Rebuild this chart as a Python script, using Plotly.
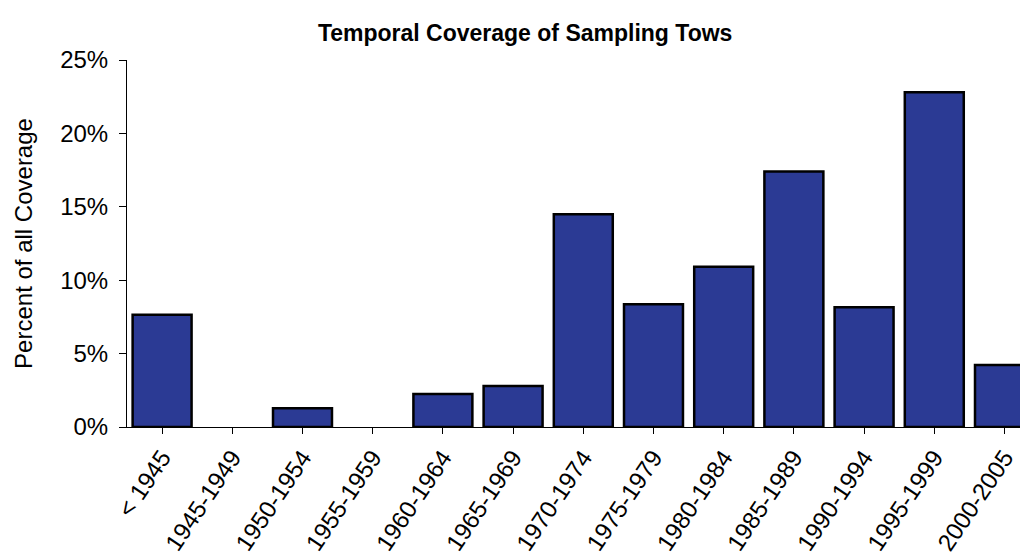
import plotly.graph_objects as go

categories = ["< 1945", "1945-1949", "1950-1954", "1955-1959", "1960-1964", "1965-1969",
              "1970-1974", "1975-1979", "1980-1984", "1985-1989", "1990-1994", "1995-1999",
              "2000-2005"]
percent_values = [7.65, 0, 1.27, 0, 2.25, 2.8, 14.5, 8.36, 10.92, 17.4, 8.15, 22.8, 4.22]
y_tick_vals = [0, 5, 10, 15, 20, 25]
y_tick_text = ["0%", "5%", "10%", "15%", "20%", "25%"]

font_family = "Liberation Sans, Arial, sans-serif"

line_widths = [2.5 if v > 0 else 0 for v in percent_values]

fig = go.Figure()
fig.add_trace(go.Bar(
    x=list(range(len(categories))),
    y=percent_values,
    width=0.84,
    marker=dict(color="#2b3a94", line=dict(color="black", width=line_widths)),
    showlegend=False,
))

fig.update_layout(
    width=1020, height=548,
    margin=dict(l=119, r=0, t=52, b=129, autoexpand=False),
    paper_bgcolor="white", plot_bgcolor="white",
    font=dict(family=font_family, size=24, color="black"),
    title=dict(text="<b>Temporal Coverage of Sampling Tows</b>", x=0.507, xanchor="center",
               y=0.954, yanchor="middle", font=dict(size=23, family=font_family, color="black")),
)
fig.update_xaxes(
    range=[-0.5, 12.335], automargin=False,
    tickmode="array", tickvals=list(range(len(categories))), ticktext=categories,
    tickangle=-56, showline=True, linecolor="black", linewidth=1,
    ticks="outside", ticklen=6, tickcolor="black", tickson="boundaries",
    showgrid=False, zeroline=False, tickfont=dict(size=24),
)
fig.update_yaxes(
    range=[0, 25], automargin=False, tickmode="array", tickvals=y_tick_vals, ticktext=y_tick_text,
    showline=True, linecolor="black", linewidth=1,
    ticks="outside", ticklen=7, tickcolor="black", ticklabelstandoff=6,
    showgrid=False, zeroline=False, tickfont=dict(size=24),
    title=dict(text="Percent of all Coverage", font=dict(size=24), standoff=20),
)

fig.write_html("out.html")
